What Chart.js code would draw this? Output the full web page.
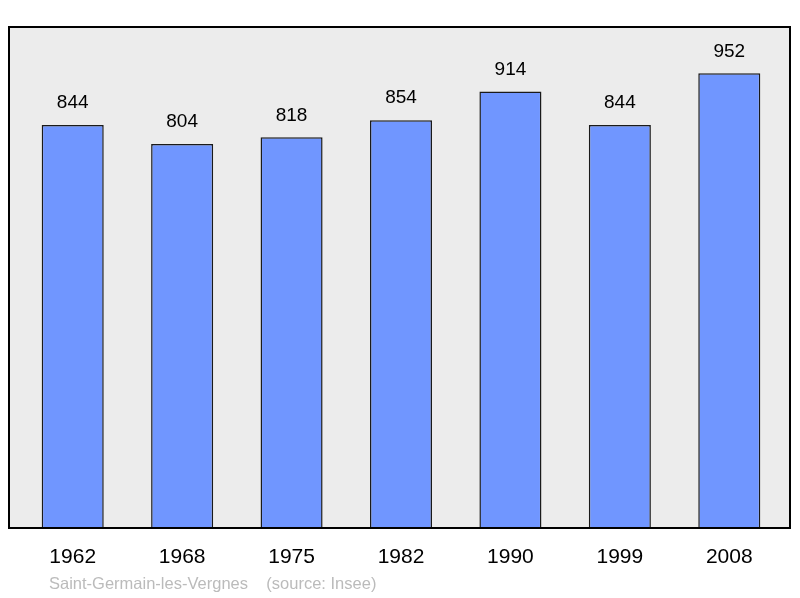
<!DOCTYPE html>
<html>
<head>
<meta charset="utf-8">
<script src="https://cdn.jsdelivr.net/npm/chart.js@4"></script>
<style>
  html, body { margin: 0; padding: 0; background: #fff; }
  #wrap { width: 800px; height: 598px; }
</style>
</head>
<body>
<div id="wrap"><canvas id="c" width="800" height="598"></canvas></div>
<script>
const years = ['1962', '1968', '1975', '1982', '1990', '1999', '2008'];
const population = [844, 804, 818, 854, 914, 844, 952];
const caption = 'Saint-Germain-les-Vergnes    (source: Insee)';

// le cadre déborde un peu de la zone des barres
const FRAME_LEFT = 9, FRAME_RIGHT = 790;

const decor = {
  id: 'decor',
  beforeDatasetsDraw(chart) {
    const { ctx, chartArea: a } = chart;
    ctx.save();
    ctx.fillStyle = '#ececec';
    ctx.fillRect(FRAME_LEFT, a.top, FRAME_RIGHT - FRAME_LEFT, a.bottom - a.top);
    ctx.restore();
  },
  afterDatasetsDraw(chart) {
    const { ctx, chartArea: a } = chart;
    const meta = chart.getDatasetMeta(0);
    ctx.save();
    ctx.strokeStyle = '#000';
    ctx.lineWidth = 2;
    ctx.strokeRect(FRAME_LEFT, a.top, FRAME_RIGHT - FRAME_LEFT, a.bottom - a.top);
    ctx.fillStyle = '#000';
    ctx.textAlign = 'center';
    ctx.textBaseline = 'middle';
    ctx.font = '19px "Liberation Sans", Arial, sans-serif';
    meta.data.forEach((bar, i) => {
      ctx.fillText(String(population[i]), bar.x, bar.y - 22);
    });
    ctx.font = '21px "Liberation Sans", Arial, sans-serif';
    meta.data.forEach((bar, i) => {
      ctx.fillText(years[i], bar.x, a.bottom + 29);
    });
    ctx.textAlign = 'left';
    ctx.fillStyle = '#bbbbbb';
    ctx.font = '16.5px "Liberation Sans", Arial, sans-serif';
    ctx.fillText(caption, 49, 584);
    ctx.restore();
  }
};

new Chart(document.getElementById('c'), {
  type: 'bar',
  data: {
    labels: years,
    datasets: [{
      data: population,
      backgroundColor: '#7096ff',
      borderColor: '#1a1a1a',
      borderWidth: 1.5,
      categoryPercentage: 1,
      barPercentage: 0.567
    }]
  },
  options: {
    responsive: false,
    animation: false,
    layout: { padding: { left: 18, right: 16, top: 27, bottom: 70 } },
    plugins: { legend: { display: false }, tooltip: { enabled: false } },
    scales: {
      x: { display: false },
      y: { display: false, min: 0, max: 1049 }
    }
  },
  plugins: [decor]
});
</script>
</body>
</html>
